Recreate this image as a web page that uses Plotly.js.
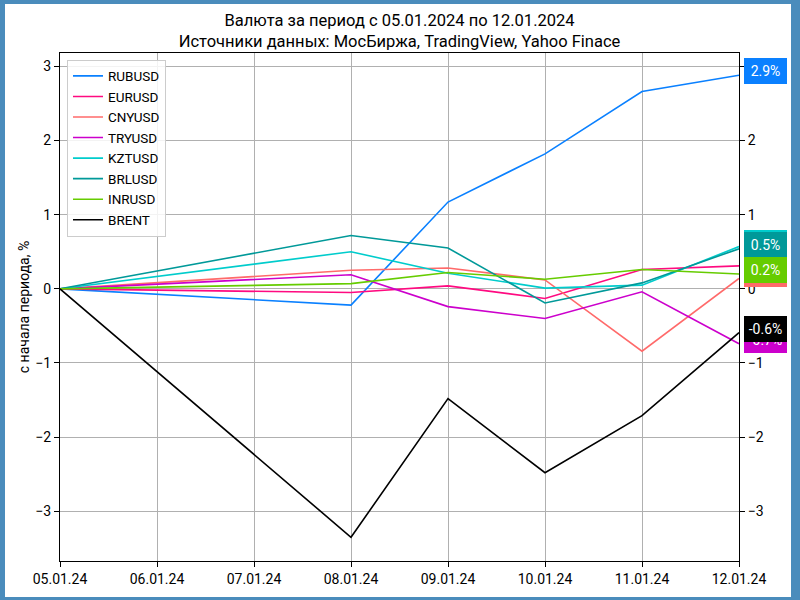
<!DOCTYPE html>
<html>
<head>
<meta charset="utf-8">
<script src="https://cdn.plot.ly/plotly-3.0.1.min.js"></script>
<style>
html, body { margin: 0; padding: 0; width: 800px; height: 600px; background: #4a8cbc; overflow: hidden; }
#plot { position: absolute; left: 5px; top: 4px; width: 786px; height: 593px; background: #ffffff; }
</style>
</head>
<body>
<div id="plot"></div>
<script>
const dates = ['2024-01-05', '2024-01-08', '2024-01-09', '2024-01-10', '2024-01-11', '2024-01-12'];
const seriesNames = ['RUBUSD', 'EURUSD', 'CNYUSD', 'TRYUSD', 'KZTUSD', 'BRLUSD', 'INRUSD', 'BRENT'];
const rubusd = [0, -0.22, 1.17, 1.82, 2.66, 2.88];
const eurusd = [0, -0.05, 0.04, -0.13, 0.26, 0.31];
const cnyusd = [0, 0.25, 0.28, 0.12, -0.84, 0.14];
const tryusd = [0, 0.19, -0.24, -0.40, -0.04, -0.74];
const kztusd = [0, 0.50, 0.21, 0.01, 0.05, 0.57];
const brlusd = [0, 0.72, 0.55, -0.19, 0.08, 0.54];
const inrusd = [0, 0.07, 0.22, 0.13, 0.26, 0.20];
const brent = [0, -3.35, -1.48, -2.48, -1.71, -0.59];
const colors = ['#0a80ff', '#ff0a80', '#ff6a6a', '#cc00cc', '#00cccc', '#009999', '#66cc00', '#000000'];
const allSeries = [rubusd, eurusd, cnyusd, tryusd, kztusd, brlusd, inrusd, brent];

const yRange = [-3.67, 3.18];
const FONT = 'Roboto, "Noto Sans", sans-serif';

const traces = allSeries.map((vals, i) => ({
  type: 'scatter', mode: 'lines', name: seriesNames[i],
  x: dates, y: vals, line: { color: colors[i], width: 1.6 },
  xaxis: 'x', yaxis: 'y'
}));
traces.push({
  type: 'scatter', mode: 'markers', x: [dates[0]], y: [0], yaxis: 'y2',
  marker: { opacity: 0 }, showlegend: false, hoverinfo: 'skip'
});

const annotations = allSeries.map((vals, i) => {
  const last = vals[vals.length - 1];
  return {
    x: dates[dates.length - 1], y: last, xref: 'x', yref: 'y',
    text: last.toFixed(1) + '%', showarrow: false,
    xanchor: 'left', yanchor: 'middle', xshift: 5, yshift: 4,
    font: { family: FONT, size: 14, color: '#ffffff' },
    bgcolor: colors[i], borderpad: 3, borderwidth: 1, bordercolor: colors[i],
    width: 35, height: 18, align: 'center'
  };
});

const layout = {
  width: 786, height: 593,
  paper_bgcolor: '#ffffff', plot_bgcolor: '#ffffff',
  margin: { l: 55, r: 52, t: 49, b: 36 },
  font: { family: FONT, size: 14, color: '#000000' },
  title: {
    text: 'Валюта за период с 05.01.2024 по 12.01.2024<br>Источники данных: МосБиржа, TradingView, Yahoo Finace',
    x: 0.5, xanchor: 'center', xref: 'paper', y: 0.963, yref: 'container', yanchor: 'middle',
    font: { family: FONT, size: 16.5, color: '#000000' }
  },
  showlegend: true,
  legend: {
    x: 0.0103, y: 0.987, xanchor: 'left', yanchor: 'top',
    bgcolor: 'rgba(255,255,255,0.85)', bordercolor: '#cccccc', borderwidth: 1,
    font: { family: FONT, size: 13.5, color: '#000000' }
  },
  xaxis: {
    type: 'date', range: ['2024-01-05', '2024-01-12'],
    tick0: '2024-01-05', dtick: 86400000, tickformat: '%d.%m.%y',
    showgrid: true, gridcolor: '#b0b0b0', gridwidth: 1,
    showline: true, linecolor: '#000000', linewidth: 1, mirror: true,
    ticks: 'outside', ticklen: 5, tickcolor: '#000000',
    tickfont: { family: FONT, size: 14 }, zeroline: false
  },
  yaxis: {
    range: yRange, dtick: 1, tick0: 0,
    showgrid: true, gridcolor: '#b0b0b0', gridwidth: 1,
    showline: true, linecolor: '#000000', linewidth: 1, mirror: true,
    ticks: 'outside', ticklen: 5, tickcolor: '#000000',
    tickfont: { family: FONT, size: 14 }, zeroline: false,
    title: { text: 'с начала периода, %', font: { family: FONT, size: 14 }, standoff: 2 }
  },
  yaxis2: {
    overlaying: 'y', side: 'right', range: yRange, dtick: 1, tick0: 0,
    showgrid: false, zeroline: false, showline: true, linecolor: '#000000',
    ticks: 'outside', ticklen: 5, tickcolor: '#000000',
    tickfont: { family: FONT, size: 14 }
  },
  annotations: annotations
};

Plotly.newPlot('plot', traces, layout, { displayModeBar: false, staticPlot: true });
</script>
</body>
</html>
